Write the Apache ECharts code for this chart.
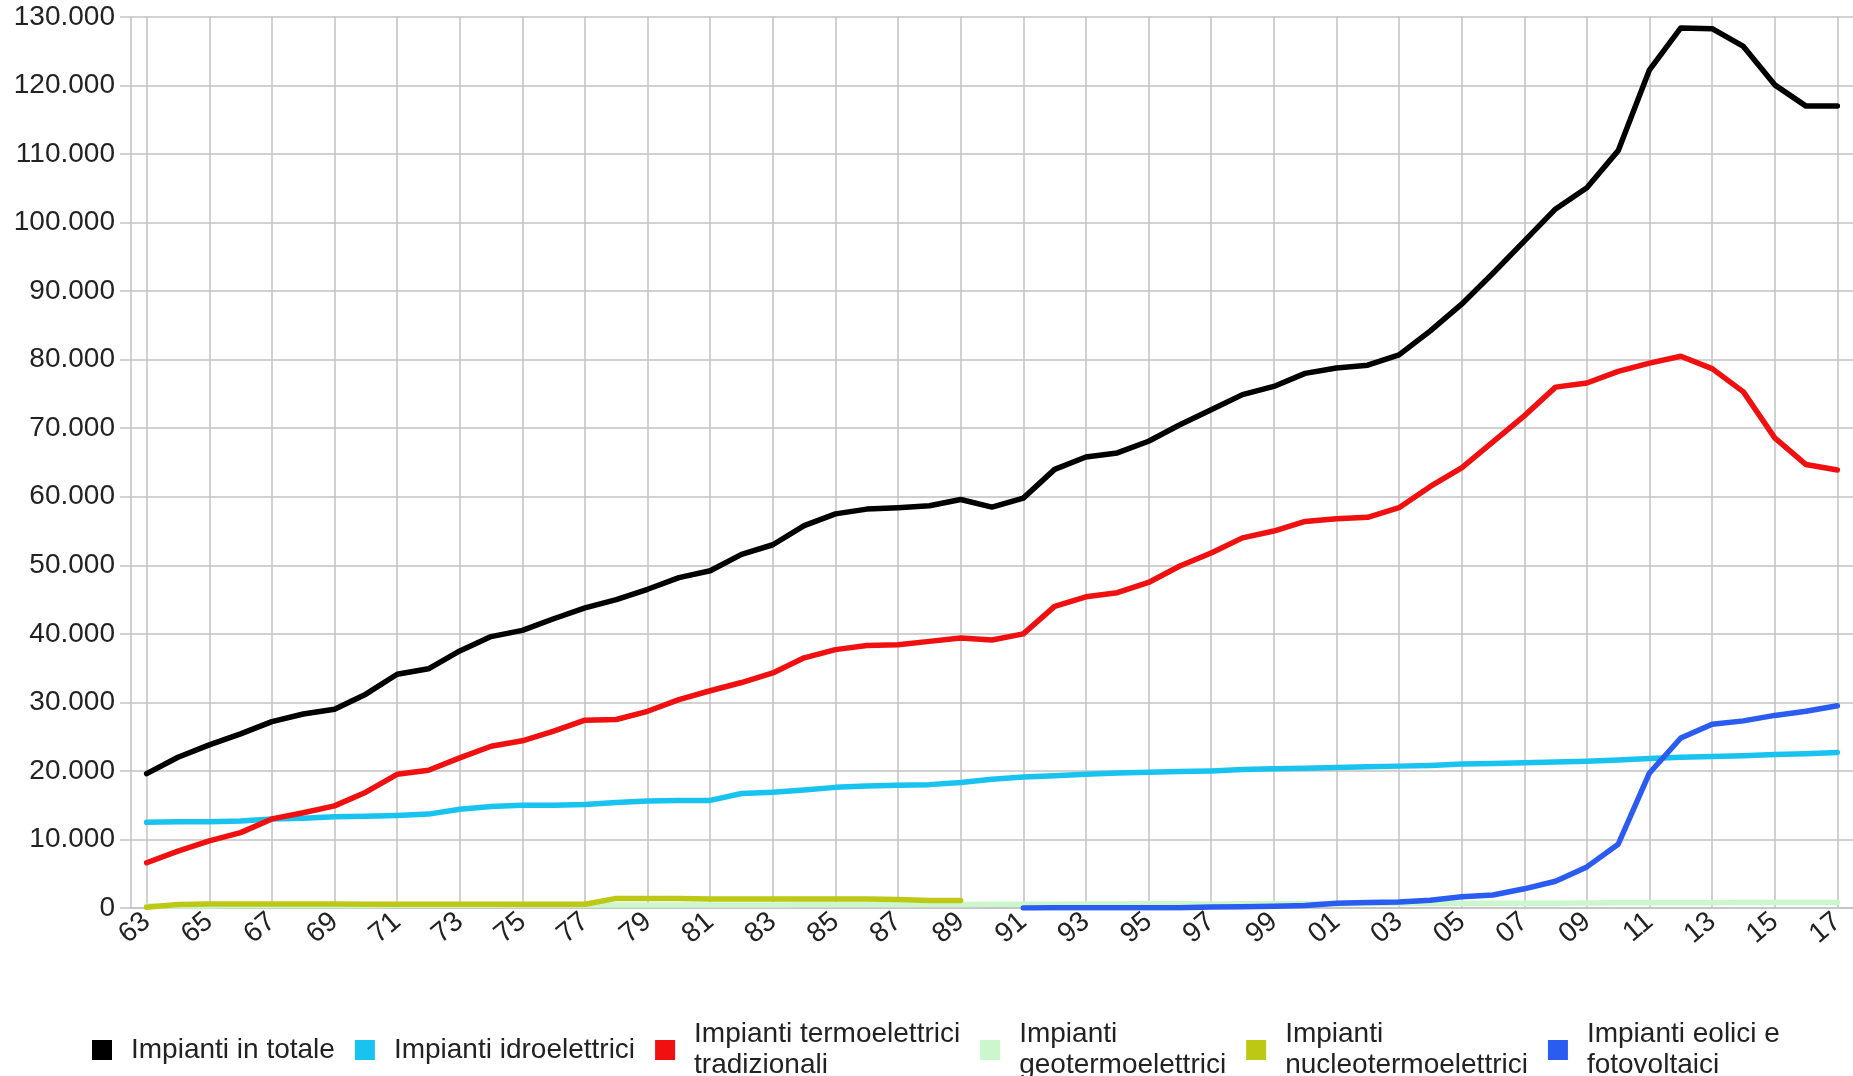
<!DOCTYPE html>
<html>
<head>
<meta charset="utf-8">
<script src="https://cdn.jsdelivr.net/npm/echarts@6/dist/echarts.min.js"></script>
<style>
html,body{margin:0;padding:0;background:#fff;}
#chart{width:1853px;height:1076px;}
</style>
</head>
<body>
<div id="chart"></div>
<script>
const years = [1963,1964,1965,1966,1967,1968,1969,1970,1971,1972,1973,1974,1975,1976,1977,1978,1979,1980,1981,1982,1983,1984,1985,1986,1987,1988,1989,1990,1991,1992,1993,1994,1995,1996,1997,1998,1999,2000,2001,2002,2003,2004,2005,2006,2007,2008,2009,2010,2011,2012,2013,2014,2015,2016,2017];
const labelYears = [1963,1965,1967,1969,1971,1973,1975,1977,1979,1981,1983,1985,1987,1989,1991,1993,1995,1997,1999,2001,2003,2005,2007,2009,2011,2013,2015,2017];
const yTicks = [0,10000,20000,30000,40000,50000,60000,70000,80000,90000,100000,110000,120000,130000];

const totale = [19600,22000,23800,25400,27200,28300,29000,31200,34100,34900,37500,39600,40500,42200,43800,45000,46500,48200,49200,51600,53000,55800,57500,58200,58400,58700,59600,58500,59800,64000,65800,66400,68100,70500,72700,74900,76100,78000,78800,79200,80700,84200,88100,92600,97300,102000,105100,110500,122300,128400,128300,125700,120100,117000,117000];
const idro = [12500,12600,12600,12700,13000,13100,13300,13400,13500,13700,14400,14800,15000,15000,15100,15400,15600,15700,15700,16700,16900,17200,17600,17800,17900,18000,18300,18800,19100,19300,19500,19700,19800,19900,20000,20200,20300,20400,20500,20600,20700,20800,21000,21100,21200,21300,21400,21600,21800,22000,22100,22200,22400,22500,22700];
const termo = [6600,8300,9800,11000,13000,13900,14900,16900,19500,20100,21900,23600,24400,25800,27400,27500,28700,30400,31700,32900,34300,36500,37700,38300,38400,38900,39400,39100,40000,44000,45400,46000,47500,49900,51800,54000,55000,56400,56800,57000,58400,61500,64200,68000,71800,76000,76600,78300,79500,80500,78700,75300,68600,64700,63900];
const geo = [300,310,330,350,360,360,370,380,390,400,400,410,420,420,420,420,440,440,440,450,450,460,460,480,480,500,520,550,550,550,570,580,630,630,560,620,620,630,570,710,710,680,710,710,710,710,740,770,770,770,770,820,820,820,810];
const nucleo = [100,500,600,600,600,600,600,550,550,550,550,550,550,550,550,1400,1400,1400,1300,1300,1300,1300,1300,1300,1250,1100,1100,null,null,null,null,null,null,null,null,null,null,null,null,null,null,null,null,null,null,null,null,null,null,null,null,null,null,null,null];
const eolici = [null,null,null,null,null,null,null,null,null,null,null,null,null,null,null,null,null,null,null,null,null,null,null,null,null,null,null,null,10,20,30,30,30,40,130,190,240,380,680,790,880,1130,1640,1900,2800,3900,6000,9300,19700,24800,26800,27300,28100,28700,29500];

const seriesNames = ['Impianti in totale','Impianti idroelettrici','Impianti termoelettrici tradizionali','Impianti geotermoelettrici','Impianti nucleotermoelettrici','Impianti eolici e fotovoltaici'];
const legendLabels = {
  'Impianti in totale':'Impianti in totale',
  'Impianti idroelettrici':'Impianti idroelettrici',
  'Impianti termoelettrici tradizionali':'Impianti termoelettrici\ntradizionali',
  'Impianti geotermoelettrici':'Impianti\ngeotermoelettrici',
  'Impianti nucleotermoelettrici':'Impianti\nnucleotermoelettrici',
  'Impianti eolici e fotovoltaici':'Impianti eolici e\nfotovoltaici'
};
const colors = ['#000000','#19c3f0','#f01010','#ccf7cc','#bcc814','#2a5cf2'];
const valuesList = [totale, idro, termo, geo, nucleo, eolici];

function pairs(arr){
  const out = [];
  for (let i = 0; i < years.length; i++) {
    if (arr[i] !== null) out.push([years[i], arr[i]]);
  }
  return out;
}
function fmtThousands(v){
  return String(v).replace(/\B(?=(\d{3})+(?!\d))/g, '.');
}

const FONT = "'Liberation Sans', Arial, sans-serif";
const gridColor = '#c2c2c2';

const chart = echarts.init(document.getElementById('chart'));
chart.setOption({
  animation: false,
  backgroundColor: '#ffffff',
  grid: { left: 131, top: 17, width: 1727, height: 891, containLabel: false },
  xAxis: {
    type: 'value',
    min: 1962.5,
    max: 2017.5,
    axisLine: { show: true, lineStyle: { color: gridColor, width: 1.5 } },
    axisTick: { show: false, customValues: labelYears },
    axisLabel: {
      customValues: labelYears,
      rotate: 40,
      margin: 10,
      color: '#222',
      fontFamily: FONT,
      fontSize: 28,
      formatter: v => String(v).slice(2)
    },
    splitLine: { show: true, lineStyle: { color: gridColor, width: 1.5 } }
  },
  yAxis: {
    type: 'value',
    min: yTicks[0],
    max: yTicks[yTicks.length - 1],
    interval: 10000,
    axisLine: { show: true, lineStyle: { color: gridColor, width: 1.5 } },
    axisTick: { show: true, length: 11, lineStyle: { color: gridColor, width: 1.5 } },
    axisLabel: {
      margin: 16,
      color: '#222',
      fontFamily: FONT,
      fontSize: 28,
      formatter: v => fmtThousands(v)
    },
    splitLine: { show: true, lineStyle: { color: gridColor, width: 1.5 } }
  },
  legend: {
    data: seriesNames,
    left: 87,
    top: 1014,
    icon: 'rect',
    itemWidth: 20,
    itemHeight: 20,
    itemGap: 20,
    formatter: name => legendLabels[name],
    textStyle: {
      fontFamily: FONT,
      fontSize: 28,
      lineHeight: 31,
      color: '#222',
      padding: [0, 0, 0, 14]
    }
  },
  series: seriesNames.map((name, i) => ({
    name: name,
    type: 'line',
    data: pairs(valuesList[i]),
    showSymbol: false,
    symbol: 'none',
    color: colors[i],
    lineStyle: { width: 5.5, color: colors[i], cap: 'round', join: 'round' },
    itemStyle: { color: colors[i] },
    z: 2 + i
  }))
});
</script>
</body>
</html>
